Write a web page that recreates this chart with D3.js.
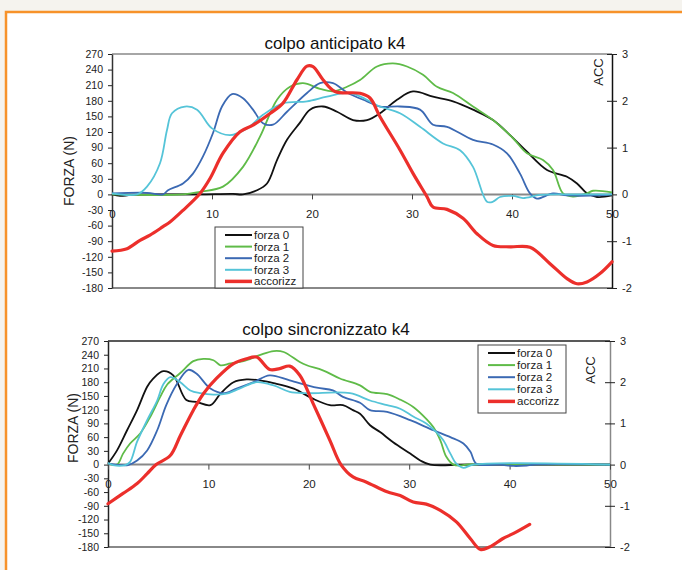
<!DOCTYPE html>
<html>
<head>
<meta charset="utf-8">
<script src="https://cdn.jsdelivr.net/npm/d3@7"></script>
<style>
  body { margin: 0; background: #f5f3ee; }
  svg { display: block; font-family: "Liberation Sans", Arial, sans-serif; }
</style>
</head>
<body>
<svg id="chart" width="682" height="570"></svg>
<script>
// axis ticks
const xTicks = [0, 10, 20, 30, 40, 50];
const forceTicks = [270, 240, 210, 180, 150, 120, 90, 60, 30, 0, -30, -60, -90, -120, -150, -180];
const accTicks = [3, 2, 1, 0, -1, -2];

const seriesNames = ["forza 0", "forza 1", "forza 2", "forza 3", "accorizz"];
const seriesColors = ["#111111", "#5fbb48", "#3b69b3", "#55c4d8", "#ec2f2b"];

// colpo anticipato k4  -- [t, forza N]   (accorizz in ACC units)
const antForza0 = [[0,0],[0.8,-3],[1.9,-1],[5,0],[8.8,0],[12.1,1],[13.1,0],[14.5,8],[15.5,21],[16.5,66],[17.5,105],[18.8,138],[19.8,163],[21.1,169],[22.5,159],[24.1,143],[25.5,143],[26.8,156],[28.5,182],[30.1,198],[32.1,188],[34.1,179],[36.1,163],[38.1,143],[39.8,114],[41.5,82],[43.5,47],[45.5,34],[46.5,21],[47.5,2],[48.5,-5],[50,-2]];
const antForza1 = [[0,0],[7.1,0],[8.8,5],[11.1,15],[13.1,53],[14.8,111],[16.5,182],[17.8,207],[19.1,214],[20.8,203],[22.1,198],[23.5,207],[24.8,220],[26.5,246],[28.1,252],[29.5,246],[31.1,230],[32.5,207],[34.1,195],[36.1,169],[38.1,143],[40.1,108],[41.5,79],[43.1,66],[44.1,47],[45.1,2],[46.1,-4],[47.5,2],[48.1,7],[50,4]];
const antForza2 = [[0,2],[3.5,3],[5.1,0],[5.6,8],[7.1,21],[8.1,40],[9.1,73],[10.1,118],[11,169],[12,193],[13.1,185],[14.1,163],[15.1,137],[16.1,134],[17.5,159],[19.5,195],[20.8,214],[22.1,214],[23.5,196],[25.5,179],[26.8,169],[28.8,169],[30.8,163],[32.1,134],[33.5,130],[36.1,105],[38.1,96],[39.5,79],[40.8,40],[41.8,2],[42.5,-8],[44.1,2],[45.5,-2],[48.8,-2],[50,0]];
const antForza3 = [[0,2],[2.5,0],[3.5,15],[4.8,60],[5.5,124],[6.0,156],[7.3,169],[8.5,163],[10,127],[11.8,114],[13.5,127],[15.1,153],[17.1,175],[19.5,179],[21.5,188],[23.8,195],[26.8,169],[28.8,156],[30.8,130],[33.1,98],[34.8,85],[36.1,53],[37.5,-14],[38.1,-14],[38.8,-5],[40.1,-3],[41.1,-7],[42.8,-1],[45.5,0],[50,0]];
const antAcc = [[0,-1.21],[1.5,-1.16],[2.8,-0.98],[3.8,-0.87],[5.1,-0.69],[5.8,-0.59],[7.1,-0.34],[8.8,0.02],[9.8,0.34],[11.1,0.88],[12.8,1.34],[14.1,1.48],[15.8,1.73],[17.1,1.95],[18.5,2.45],[19.5,2.74],[20.1,2.73],[21.1,2.45],[22.3,2.2],[24.8,2.16],[25.8,2.06],[26.8,1.66],[28.8,0.95],[30.1,0.45],[31.5,-0.05],[32.1,-0.27],[33.5,-0.32],[35.1,-0.51],[36.5,-0.84],[38.1,-1.09],[39.8,-1.12],[41.8,-1.13],[43.8,-1.48],[45.5,-1.8],[46.5,-1.91],[47.5,-1.87],[48.8,-1.69],[50,-1.44]];

// colpo sincronizzato k4
const sinForza0 = [[0,2],[0.9,31],[1.9,75],[2.9,119],[3.9,170],[4.5,188],[5.5,204],[6.5,195],[7.8,141],[8.8,137],[10.2,130],[11.2,155],[12.5,180],[13.8,186],[15.1,184],[16.5,178],[18.5,166],[20.4,144],[22.1,130],[23.4,130],[24.4,119],[25.1,111],[26.1,86],[27.1,71],[28.4,49],[30.1,24],[31.1,9],[32.1,0],[35.7,0],[50,0]];
const sinForza1 = [[0,2],[0.9,0],[1.5,24],[2.2,46],[3.2,68],[4.2,104],[5.2,148],[5.9,175],[7.2,200],[8.5,226],[9.5,231],[10.5,228],[11.2,217],[12.2,221],[13.5,226],[15.1,239],[16.5,248],[17.5,246],[19.1,224],[19.8,217],[21.4,206],[23.1,188],[25.1,173],[26.1,159],[27.8,154],[29.1,142],[30.4,126],[31.7,100],[32.4,82],[33.1,53],[33.7,17],[34.4,0],[35.1,-2],[35.7,0],[50,0]];
const sinForza2 = [[0,2],[1.2,-1],[2.0,-1],[2.9,9],[3.9,31],[4.9,75],[5.8,130],[6.8,174],[8.0,207],[8.8,199],[10.2,166],[11.5,156],[12.8,166],[14.5,180],[16.1,195],[18.1,184],[20.8,168],[22.4,162],[23.4,148],[25.1,135],[26.1,119],[27.8,115],[30.1,97],[32.4,75],[34.1,60],[35.4,46],[36.1,28],[36.7,2],[39,0],[40.4,-3],[41.7,-2],[42.4,0],[50,0]];
const sinForza3 = [[0,4],[0.5,-1],[1.7,-1],[2.2,6],[2.9,50],[3.9,97],[4.9,140],[5.5,175],[6.2,191],[7.2,180],[8.2,162],[9.2,156],[10.5,153],[11.8,155],[13.1,166],[14.8,180],[16.5,173],[18.1,159],[19.8,156],[24.1,156],[26.1,140],[27.8,130],[29.1,122],[30.4,105],[31.7,90],[32.7,71],[33.4,53],[34.1,24],[34.7,2],[35.4,-7],[36.4,0],[50,0]];
const sinAcc = [[0,-0.95],[1.5,-0.70],[2.9,-0.46],[3.9,-0.22],[4.8,0],[6.2,0.22],[7.2,0.7],[8.5,1.32],[9.5,1.72],[10.8,2.09],[12.5,2.45],[13.8,2.57],[14.8,2.61],[16.1,2.31],[17.1,2.33],[18.1,2.39],[19.1,2.17],[20.4,1.5],[22.1,0.59],[23.2,0.0],[24.4,-0.30],[25.7,-0.42],[27.8,-0.66],[29.1,-0.75],[30.4,-0.91],[31.7,-0.96],[33.1,-1.11],[34.7,-1.39],[36.1,-1.80],[37.1,-2.06],[38.0,-2.0],[39.3,-1.80],[40.4,-1.67],[42.0,-1.45]];

const svg = d3.select("#chart");
const plain = d => String(d); // hyphen minus, no decimals

// page frame
svg.append("rect").attr("width", 682).attr("height", 570).attr("fill", "#f5f3ee");
svg.append("rect").attr("x", 6).attr("y", 12).attr("width", 680).attr("height", 570).attr("fill", "#fff");
svg.append("path").attr("d", "M6,570V12H682").attr("fill", "none").attr("stroke", "#f7922a").attr("stroke-width", 2.5);

const panels = [
  { title: "colpo anticipato k4", titleX: 335, titleY: 49,
    left: 112, right: 612, top: 54, bottom: 288,
    forza: [antForza0, antForza1, antForza2, antForza3], acc: antAcc,
    forzaLabel: [69, 171], accLabel: [598, 72],
    legend: { x: 215, y: 227, w: 88, h: 61, step: 11.6 },
    frame: { left: "#333", right: "#111", top: "#888", bottom: "#888" } },
  { title: "colpo sincronizzato k4", titleX: 326, titleY: 335,
    left: 108, right: 610, top: 341, bottom: 547,
    forza: [sinForza0, sinForza1, sinForza2, sinForza3], acc: sinAcc,
    forzaLabel: [73, 428], accLabel: [590, 370],
    legend: { x: 478, y: 345, w: 88, h: 68, step: 12.1 },
    frame: { left: "#222", right: "#888", top: "#222", bottom: "#888" } }
];

panels.forEach(p => {
  const g = svg.append("g");
  const x = d3.scaleLinear().domain([0, 50]).range([p.left, p.right]);
  const y = d3.scaleLinear().domain([-180, 270]).range([p.bottom, p.top]);
  const y2 = d3.scaleLinear().domain([-2, 3]).range([p.bottom, p.top]);

  // plot frame
  g.append("line").attr("x1", p.left).attr("x2", p.right).attr("y1", p.top).attr("y2", p.top)
    .attr("stroke", p.frame.top).attr("stroke-width", 1.5);
  g.append("line").attr("x1", p.left).attr("x2", p.right).attr("y1", p.bottom).attr("y2", p.bottom)
    .attr("stroke", p.frame.bottom).attr("stroke-width", 2);

  // left axis
  const ax = g.append("g").attr("transform", `translate(${p.left},0)`)
    .call(d3.axisLeft(y).tickValues(forceTicks).tickFormat(plain).tickSize(4).tickPadding(5).tickSizeOuter(0));
  ax.select(".domain").attr("stroke", p.frame.left).attr("stroke-width", 1.5);
  ax.selectAll(".tick line").attr("stroke", "#222");
  ax.selectAll("text").style("font-size", "10.5px").attr("fill", "#222");

  // right axis (ACC)
  const ar = g.append("g").attr("transform", `translate(${p.right},0)`)
    .call(d3.axisRight(y2).tickValues(accTicks).tickFormat(plain).tickSize(5).tickPadding(5).tickSizeOuter(0));
  ar.select(".domain").attr("stroke", p.frame.right).attr("stroke-width", 1.5);
  ar.selectAll(".tick line").attr("x1", -5).attr("stroke", "#222");
  ar.selectAll("text").style("font-size", "11px").attr("fill", "#222");

  // x axis on zero line
  g.append("line").attr("x1", p.left).attr("x2", p.right).attr("y1", y(0)).attr("y2", y(0))
    .attr("stroke", "#888").attr("stroke-width", 2);
  const axb = g.append("g").attr("transform", `translate(0,${y(0)})`)
    .call(d3.axisBottom(x).tickValues(xTicks).tickFormat(plain).tickSize(5).tickPadding(10).tickSizeOuter(0));
  axb.select(".domain").remove();
  axb.selectAll(".tick line").attr("stroke", "#444");
  axb.selectAll("text").style("font-size", "11.5px").attr("fill", "#222");

  // axis titles
  g.append("text").attr("transform", `translate(${p.forzaLabel[0]},${p.forzaLabel[1]}) rotate(-90)`)
    .attr("text-anchor", "middle").attr("dy", "0.35em")
    .style("font-size", "14px").attr("fill", "#222").text("FORZA (N)");
  g.append("text").attr("transform", `translate(${p.accLabel[0]},${p.accLabel[1]}) rotate(-90)`)
    .attr("text-anchor", "middle").attr("dy", "0.35em")
    .style("font-size", "13px").attr("fill", "#222").text("ACC");

  // title
  g.append("text").attr("x", p.titleX).attr("y", p.titleY).attr("text-anchor", "middle")
    .style("font-size", "17px").attr("fill", "#111").text(p.title);

  // lines
  const lineF = d3.line().curve(d3.curveCatmullRom.alpha(0.5)).x(d => x(d[0])).y(d => y(d[1]));
  const lineA = d3.line().curve(d3.curveCatmullRom.alpha(0.5)).x(d => x(d[0])).y(d => y2(d[1]));

  p.forza.forEach((s, i) => {
    g.append("path").datum(s).attr("fill", "none")
      .attr("stroke", seriesColors[i]).attr("stroke-width", 1.8)
      .attr("stroke-linejoin", "round").attr("d", lineF);
  });
  g.append("path").datum(p.acc).attr("fill", "none")
    .attr("stroke", seriesColors[4]).attr("stroke-width", 3.2)
    .attr("stroke-linejoin", "round").attr("stroke-linecap", "round").attr("d", lineA);

  // legend
  const L = p.legend;
  const lg = g.append("g").attr("transform", `translate(${L.x},${L.y})`);
  lg.append("rect").attr("width", L.w).attr("height", L.h)
    .attr("fill", "#fff").attr("stroke", "#444").attr("stroke-width", 1);
  seriesNames.forEach((name, i) => {
    const yy = 8 + i * L.step;
    lg.append("line").attr("x1", 10).attr("x2", 37).attr("y1", yy).attr("y2", yy)
      .attr("stroke", seriesColors[i]).attr("stroke-width", i === 4 ? 3.5 : 2);
    lg.append("text").attr("x", 39).attr("y", yy).attr("dy", "0.35em")
      .style("font-size", "11.5px").attr("fill", "#222").text(name);
  });
});
</script>
</body>
</html>
